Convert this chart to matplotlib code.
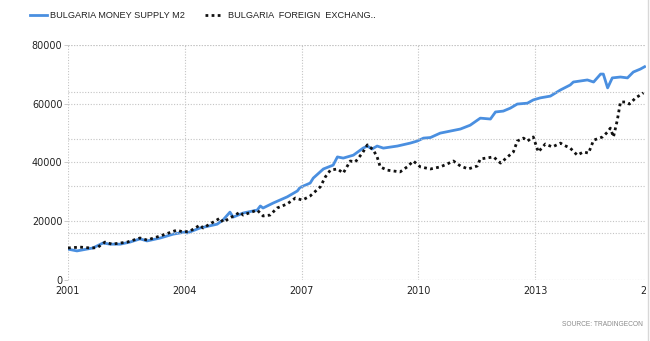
import matplotlib
matplotlib.use("Agg")
import matplotlib.pyplot as plt
from matplotlib.lines import Line2D
from matplotlib.patches import Rectangle

# Bulgaria money supply M2 (decimal year, value)
m2_years = [2001.00, 2001.23, 2001.64, 2001.90, 2002.08, 2002.34, 2002.59, 2002.85,
            2003.03, 2003.37, 2003.70, 2004.00, 2004.06, 2004.39, 2004.83, 2004.98,
            2005.16, 2005.24, 2005.50, 2005.86, 2005.94, 2006.01, 2006.27, 2006.63,
            2006.89, 2006.96, 2007.22, 2007.30, 2007.56, 2007.81, 2007.92, 2008.07,
            2008.33, 2008.58, 2008.69, 2008.81, 2008.94, 2009.10, 2009.46, 2009.79,
            2009.97, 2010.13, 2010.31, 2010.56, 2010.82, 2011.08, 2011.33, 2011.59,
            2011.85, 2011.98, 2012.18, 2012.36, 2012.54, 2012.80, 2012.95, 2013.13,
            2013.39, 2013.65, 2013.90, 2013.98, 2014.34, 2014.50, 2014.68, 2014.75,
            2014.86, 2014.98, 2015.19, 2015.37, 2015.52, 2015.70, 2015.81]
m2_values = [10500, 9900, 10900, 12600, 12200, 12200, 12900, 14000,
             13300, 14300, 15600, 16300, 16000, 17700, 19000, 20400,
             23100, 21400, 22800, 23800, 25200, 24500, 26200, 28300,
             30300, 31500, 33000, 34700, 37800, 39100, 41900, 41500,
             42500, 44900, 45600, 44600, 45600, 44900, 45600, 46600,
             47300, 48300, 48500, 50000, 50700, 51400, 52700, 55100,
             54800, 57200, 57500, 58500, 59900, 60200, 61300, 62000,
             62600, 64700, 66400, 67400, 68100, 67400, 70100, 70100,
             65400, 68800, 69100, 68800, 70800, 71800, 72600]

# Bulgaria foreign exchange reserves (decimal year, value)
fx_years = [2001.00, 2001.31, 2001.57, 2001.75, 2001.95, 2002.13, 2002.52, 2002.85,
            2003.03, 2003.37, 2003.80, 2003.96, 2004.14, 2004.39, 2004.47, 2004.91,
            2004.98, 2005.42, 2005.50, 2005.86, 2006.01, 2006.19, 2006.37, 2006.63,
            2006.84, 2007.02, 2007.22, 2007.48, 2007.61, 2007.74, 2007.92, 2008.07,
            2008.25, 2008.38, 2008.56, 2008.69, 2008.84, 2008.94, 2009.02, 2009.20,
            2009.53, 2009.71, 2009.87, 2010.05, 2010.31, 2010.56, 2010.74, 2010.90,
            2011.08, 2011.28, 2011.51, 2011.59, 2011.93, 2012.11, 2012.29, 2012.44,
            2012.54, 2012.70, 2012.80, 2012.95, 2013.08, 2013.26, 2013.44, 2013.65,
            2013.72, 2013.90, 2014.08, 2014.24, 2014.37, 2014.50, 2014.73, 2014.86,
            2014.93, 2015.01, 2015.11, 2015.19, 2015.32, 2015.42, 2015.58, 2015.70,
            2015.78]
fx_values = [10900, 11200, 10900, 11000, 12900, 12200, 12900, 14300,
             13600, 15000, 17000, 16300, 16700, 18700, 17700, 21100,
             19700, 23100, 22100, 23800, 21800, 22100, 24500, 25900,
             27900, 27200, 28600, 31700, 35100, 37400, 37800, 36400,
             40500, 40200, 43200, 46000, 44300, 41900, 38500, 37400,
             36800, 38500, 40500, 38500, 37800, 38500, 39500, 40500,
             38800, 37800, 38800, 41200, 41900, 39800, 41900, 43600,
             47300, 48300, 47300, 48700, 43600, 46300, 45300, 46600,
             46000, 44900, 42500, 43600, 43200, 47600, 48700, 50400,
             51700, 48700, 54500, 60600, 60600, 59900, 62000, 63000,
             63700]

x_ticks = [2001, 2004, 2007, 2010, 2013, 2016]
y_ticks = [0, 20000, 40000, 60000, 80000]
y2_ticks = [0, 16000, 32000, 48000, 64000, 80000]

m2_label = "BULGARIA MONEY SUPPLY M2"
fx_label = "BULGARIA  FOREIGN  EXCHANG.."
source_text = "SOURCE: TRADINGECON"

W, H = 650, 341
fig = plt.figure(figsize=(W / 100, H / 100), dpi=100)
fig.patch.set_facecolor("white")

left_px, right_px, top_px, bottom_px = 68, 652, 45, 280
ax = fig.add_axes([left_px / W, (H - bottom_px) / H,
                   (right_px - left_px) / W, (bottom_px - top_px) / H])
ax2 = ax.twinx()

grid_kw = dict(color="#c4c4c4", linestyle=(0, (1, 1.5)), linewidth=0.8)

ax.set_xlim(2001, 2016)
ax.set_ylim(0, 80000)
ax2.set_ylim(0, 80000)

ax.set_xticks(x_ticks)
ax.set_xticklabels([str(t) for t in x_ticks])
ax.set_yticks(y_ticks)
ax.set_yticklabels([str(t) for t in y_ticks])
ax2.set_yticks(y2_ticks)
ax2.set_yticklabels([])
ax2.tick_params(axis="y", length=0)

ax.grid(True, axis="both", **grid_kw)
ax2.grid(True, axis="y", **grid_kw)
ax.set_axisbelow(True)

for a in (ax, ax2):
    for s in a.spines.values():
        s.set_visible(False)

ax.tick_params(axis="y", length=3, width=0.6, color="#c4c4c4", pad=1)
ax.tick_params(axis="x", length=0, pad=4)
for lab in ax.get_xticklabels() + ax.get_yticklabels():
    lab.set_fontfamily("DejaVu Sans")
    lab.set_fontsize(6.9)
    lab.set_color("#222222")

blue = "#4a8fe0"
ax.plot(m2_years, m2_values, color=blue, linewidth=2.0, solid_joinstyle="round", zorder=3)
ax2.plot(fx_years, fx_values, color="#111111", linewidth=2.0,
         linestyle=(0, (1, 1.2)), zorder=4)

# legend drawn across the top
ly = (H - 15) / H
fig.add_artist(Line2D([30 / W, 47 / W], [ly, ly], color=blue, linewidth=2.0))
fig.text(50 / W, ly, m2_label, fontsize=6.6, family="Liberation Sans",
         color="#222222", va="center", ha="left")
fig.add_artist(Line2D([205 / W, 223 / W], [ly, ly], color="#111111",
                      linewidth=2.0, linestyle=(0, (1, 1.2))))
fig.text(228 / W, ly, fx_label, fontsize=6.6, family="Liberation Sans",
         color="#222222", va="center", ha="left")

fig.text(562 / W, (H - 325) / H, source_text, fontsize=4.8,
         family="Liberation Sans", color="#8a8a8a", va="center", ha="left")

# container edge on the right
fig.add_artist(Rectangle((646 / W, 0), 1 - 646 / W, 1, transform=fig.transFigure,
                         facecolor="white", edgecolor="none", zorder=10))
fig.add_artist(Line2D([647.5 / W, 647.5 / W], [0, 1], color="#d8d8d8",
                      linewidth=1.0, zorder=11))

fig.savefig("out.png", dpi=100, facecolor="white")
